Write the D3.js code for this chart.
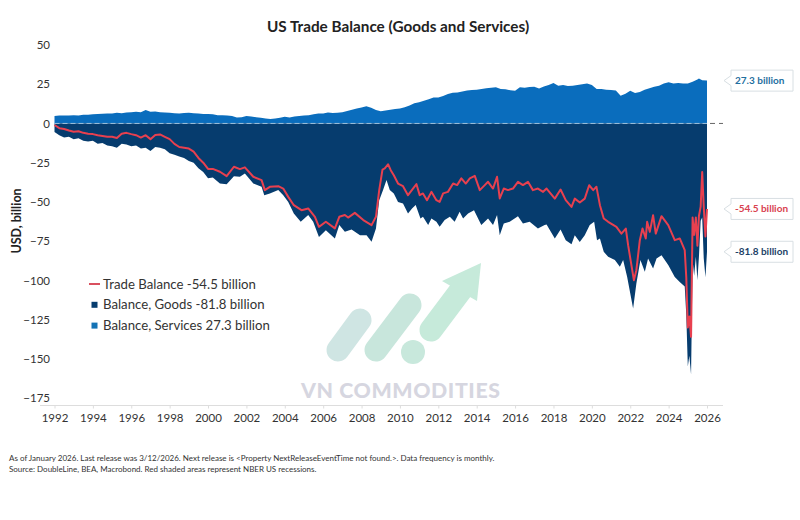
<!DOCTYPE html>
<html>
<head>
<meta charset="utf-8">
<script src="https://cdn.jsdelivr.net/npm/d3@7"></script>
<style>
  html, body { margin: 0; padding: 0; background: #fff; }
  text { font-family: Lato, "Open Sans", sans-serif; }
</style>
</head>
<body>
<div id="chart"></div>
<script>
const serviceDates = [
  1992,1992.25,1992.5,1992.75, 1993,1993.25,1993.5,1993.75, 1994,1994.25,1994.5,1994.75,
  1995,1995.25,1995.5,1995.75, 1996,1996.25,1996.5,1996.75, 1997,1997.25,1997.5,1997.75,
  1998,1998.25,1998.5,1998.75, 1999,1999.25,1999.5,1999.75, 2000,2000.25,2000.5,2000.75,
  2001,2001.25,2001.5,2001.75, 2002,2002.25,2002.5,2002.75, 2003,2003.25,2003.5,2003.75,
  2004,2004.25,2004.5,2004.75, 2005,2005.25,2005.5,2005.75, 2006,2006.25,2006.5,2006.75,
  2007,2007.25,2007.5,2007.75, 2008,2008.25,2008.5,2008.75, 2009,2009.25,2009.5,2009.75,
  2010,2010.25,2010.5,2010.75, 2011,2011.25,2011.5,2011.75, 2012,2012.25,2012.5,2012.75,
  2013,2013.25,2013.5,2013.75, 2014,2014.25,2014.5,2014.75, 2015,2015.25,2015.5,2015.75,
  2016,2016.25,2016.5,2016.75, 2017,2017.25,2017.5,2017.75, 2018,2018.25,2018.5,2018.75,
  2019,2019.25,2019.5,2019.75, 2020,2020.25,2020.5,2020.75, 2021,2021.25,2021.5,2021.75,
  2022,2022.25,2022.5,2022.75, 2023,2023.25,2023.5,2023.75, 2024,2024.25,2024.5,2024.75,
  2025,2025.25,2025.5,2025.58,2025.75,2026
];
const services = [
  4.7,5,5,5, 5.2,5,5.5,5.5, 5.8,6,6.2,6.4,
  6.3,6.8,6.5,7, 7.2,7.5,7.2,8.5, 7.5,7.6,7.2,7,
  6.8,6.5,6.4,6.6, 6.8,6.5,6.3,6, 6,5.8,5.3,5.2,
  5,4.8,3.8,3.9, 4.7,4.5,4,3.6, 3.2,2.8,3.2,3.6,
  4.3,3.8,4.5,4.8, 5,5.2,5.8,6.4, 6.4,7,6.6,6.8,
  7.2,8,8.8,9.5, 10.2,10.9,10,8.5, 7.7,8.2,8.8,9.2,
  9.5,10.3,11.5,12.8, 13.5,14.5,15.5,16.6, 16.5,17.5,18.7,19.5,
  19.8,20.4,21,21.3, 21.5,22,22.5,22.7, 23,22,21.8,21.2,
  20.9,23,22.8,23.2, 23.4,22.3,23.5,24.5, 25.7,24,24.5,23.8,
  24,24.5,25,25.5, 24.5,22,22,21.5, 21.3,21,17.7,19,
  20.9,19.4,20,21.5, 22.5,23.4,24,25.5, 26.2,25.5,25.8,25.5,
  25.5,26.5,28,28.7,27.5,27.3
];

const goodsDates = [
  1992,1992.25,1992.5,1992.75, 1993,1993.25,1993.5,1993.75, 1994,1994.25,1994.5,1994.75,
  1995,1995.25,1995.5,1995.75, 1996,1996.25,1996.5,1996.75, 1997,1997.25,1997.5,1997.75,
  1998,1998.25,1998.5,1998.75, 1999,1999.25,1999.5,1999.75, 2000,2000.25,
  2000.62,2000.97,2001.35,2001.66,2001.92,2002.36,2002.79,2002.93,2003.22,2003.66,2003.92,
  2004.18,2004.47,2004.83,2005.22,2005.48,2005.78,2006.14,2006.61,2006.84,2007.13,2007.48,
  2007.92,2008.26,2008.52,2008.75,2008.92,2009.12,2009.3,2009.47,2009.68,2009.9,
  2010.16,2010.42,2010.63,2010.82,2011.07,2011.2,2011.47,2011.64,2011.9,2012.07,2012.33,
  2012.6,2012.85,2013.11,2013.29,2013.55,2013.86,2014.24,2014.59,2014.85,2015.06,2015.2,
  2015.41,2015.72,2016.15,2016.41,2016.76,2017.19,2017.54,2017.64,2018.07,2018.37,2018.64,
  2018.94,2019.11,2019.37,2019.63,2019.89,2020.12,2020.27,2020.42,2020.62,2020.85,2021.2,
  2021.46,2021.63,2021.84,2022.15,2022.32,2022.53,2022.76,2022.93,2023.19,2023.37,2023.63,
  2023.98,2024.32,2024.58,2024.84,2024.92,
  2025,2025.08,2025.17,2025.25,2025.33,2025.42,2025.5,2025.58,2025.67,2025.75,2025.83,2025.92,2026
];
const goods = [
  -5.5,-7.5,-9,-8.5, -10,-9.5,-11,-11.5, -11,-13,-12.5,-14,
  -14.5,-15.5,-13,-13.5, -14.5,-14,-16,-15.5, -17.5,-15,-15.5,-16.5,
  -19,-20,-21,-22, -24,-25,-28.5,-31, -35,-34.5,
  -38.3,-38.7,-33.6,-34,-31.9,-38.3,-40.4,-45.7,-44.6,-42.5,-45.7,
  -50,-57.4,-62.7,-58.4,-62.7,-72.3,-68,-73.3,-64.8,-69,-67.6,
  -71.2,-71.2,-75.4,-67,-48.9,-42.5,-36.1,-42.5,-44.6,-50,
  -51,-57.4,-54.2,-52,-60.6,-59.5,-64.8,-60.6,-62.7,-65.9,-61.6,
  -59.5,-62.7,-56.3,-60.6,-57.4,-55.3,-64.8,-60.6,-64.8,-58.4,-71.2,
  -63.8,-62.7,-59.1,-63.8,-62.7,-67,-64.8,-64.4,-73.3,-67.6,-74.4,
  -77,-71.2,-75.5,-71.2,-64.8,-62.7,-74.4,-73.3,-81.8,-85,-87.1,
  -91.4,-87.1,-97.8,-118,-102,-87.1,-94.6,-86.1,-92.5,-86.1,-84,
  -90.3,-97.8,-101,-104,-122,
  -155,-148,-160,-87,-97,-85,-100,-85,-62,-60,-86,-98,-81.8
];

const tradeDates = [
  1992,1992.25,1992.5,1992.75, 1993,1993.25,1993.5,1993.75, 1994,1994.25,1994.5,1994.75,
  1995,1995.25,1995.5,1995.75, 1996,1996.25,1996.5,1996.75, 1997,1997.25,1997.5,1997.75,
  1998,1998.25,1998.5,1998.75, 1999,1999.25,1999.5,1999.75, 2000,2000.25,
  2000.62,2000.97,2001.35,2001.66,2001.92,2002.36,2002.79,2002.96,2003.22,2003.66,2003.92,
  2004.18,2004.47,2004.87,2005.22,2005.57,2005.78,2006.14,2006.61,2006.84,2007.13,2007.3,
  2007.65,2008.09,2008.52,2008.75,2008.92,2009.09,2009.21,2009.38,2009.52,2009.68,2009.9,
  2010.16,2010.42,2010.68,2010.86,2011.03,2011.2,2011.41,2011.64,2011.9,2012.07,2012.25,
  2012.5,2012.77,2012.98,2013.2,2013.43,2013.64,2013.9,2014.16,2014.42,2014.59,2014.85,
  2015.06,2015.2,2015.41,2015.63,2015.89,2016.15,2016.41,2016.67,2016.93,2017.19,2017.46,
  2017.64,2018.07,2018.37,2018.64,2018.94,2019.11,2019.37,2019.63,2019.86,2020.07,2020.24,
  2020.42,2020.62,2020.85,2021.28,2021.54,2021.77,2021.89,2022.19,2022.32,2022.5,2022.64,
  2022.81,2022.88,2023.02,2023.19,2023.33,2023.63,2023.98,2024.32,2024.58,2024.84,2024.92,
  2025,2025.08,2025.17,2025.25,2025.33,2025.42,2025.5,2025.58,2025.67,2025.75,2025.83,2025.92,2026
];
const trade = [
  -1,-3,-3.5,-4.5, -5.3,-5,-6,-6.5, -6.8,-7.5,-8,-8.5,
  -8.5,-9.3,-6.5,-6, -6.8,-7.5,-9,-7.5, -10,-7.3,-7,-8.5,
  -10,-13,-15,-15.5, -16,-18,-22,-25, -29,-29,
  -30.8,-33.6,-27.6,-29.1,-28,-34,-36.1,-42.5,-40.4,-40,-41.5,
  -46.8,-52.1,-55.3,-54.2,-59.5,-65.9,-62.7,-66.9,-59.5,-58.4,-60,
  -57,-61.6,-64.8,-59.5,-42.5,-29.4,-28.7,-26,-29.8,-33,-38.3,
  -40,-45.7,-41.5,-38.7,-45.7,-44.6,-48.9,-43.6,-48.9,-50,-44.6,
  -43.6,-38.3,-39.3,-35,-38.3,-35,-33.4,-42.5,-39.3,-37.2,-41.5,
  -34,-47.8,-41.5,-42.5,-41.5,-37.2,-39.3,-37.2,-42.5,-41.5,-43.6,
  -41.5,-47.9,-42.1,-48.9,-53.2,-47.9,-50.4,-47.9,-39.4,-42.5,-40.4,
  -52.1,-60.6,-62.7,-65.9,-70.2,-67,-77.6,-99.9,-93.5,-74.4,-67,
  -73.3,-62.7,-69.1,-58.5,-70.2,-59.1,-64.8,-74.4,-73.3,-80.8,-98,
  -130,-123,-136,-60,-71,-60,-78,-59,-53,-31,-53,-72,-54.5
];

const yTicks = [50, 25, 0, -25, -50, -75, -100, -125, -150, -175];
const xTicks = [1992,1994,1996,1998,2000,2002,2004,2006,2008,2010,2012,2014,2016,2018,2020,2022,2024,2026];
const legendItems = ['Trade Balance -54.5 billion', 'Balance, Goods -81.8 billion', 'Balance, Services 27.3 billion'];
const callouts = [
  {value: 27.3, label: '27.3 billion', color: '#1f6f9f'},
  {value: -54.5, label: '-54.5 billion', color: '#d9414f'},
  {value: -81.8, label: '-81.8 billion', color: '#1d3f66'}
];
const footnotes = [
  'As of January 2026. Last release was 3/12/2026. Next release is <Property NextReleaseEventTime not found.>. Data frequency is monthly.',
  'Source: DoubleLine, BEA, Macrobond. Red shaded areas represent NBER US recessions.'
];

const width = 800, height = 520;
const svg = d3.select('#chart').append('svg')
  .attr('width', width).attr('height', height)
  .style('display', 'block');

const x = d3.scaleLinear().domain([1992, 2026]).range([54.5, 707]);
const y = d3.scaleLinear().domain([50, -175]).range([45, 398]);
const axisY = 405.5;

svg.append('text').attr('x', 398).attr('y', 32)
  .attr('text-anchor', 'middle').attr('font-size', 15.3).attr('font-weight', 700)
  .attr('fill', '#222').text('US Trade Balance (Goods and Services)');

// watermark sits under everything else
const mark = svg.append('g');
mark.append('path').attr('d', 'M338 350L360 320').attr('stroke', '#cfe5e3').attr('stroke-width', 23).attr('stroke-linecap', 'round').attr('fill', 'none');
mark.append('path').attr('d', 'M376 350L410 305').attr('stroke', '#c8e6dc').attr('stroke-width', 23).attr('stroke-linecap', 'round').attr('fill', 'none');
mark.append('circle').attr('cx', 413).attr('cy', 352).attr('r', 12).attr('fill', '#c8e8dc');
mark.append('path').attr('d', 'M431 330L461 290').attr('stroke', '#c6eada').attr('stroke-width', 23).attr('stroke-linecap', 'round').attr('fill', 'none');
mark.append('path').attr('d', 'M481 263L442 281L477 301Z').attr('fill', '#c6eada');
mark.append('text').attr('x', 301).attr('y', 398)
  .attr('font-size', 21.3).attr('font-weight', 900).attr('letter-spacing', 0.6)
  .attr('fill', '#d6d6e0').text('VN COMMODITIES');

const toRows = (ds, vs) => ds.map((d, i) => ({date: d, value: vs[i]}));
const area = d3.area().x(d => x(d.date)).y0(y(0)).y1(d => y(d.value));

svg.append('path').datum(toRows(serviceDates, services)).attr('fill', '#0a6dbd').attr('d', area);
svg.append('path').datum(toRows(goodsDates, goods)).attr('fill', '#063c6e').attr('d', area);

// zero line, pale over the areas and grey past them
svg.append('line').attr('x1', x(1992)).attr('x2', x(2026)).attr('y1', y(0)).attr('y2', y(0))
  .attr('stroke', '#9dc0da').attr('stroke-width', 1).attr('stroke-dasharray', '5,3');
svg.append('line').attr('x1', x(2026) + 3).attr('x2', 723).attr('y1', y(0)).attr('y2', y(0))
  .attr('stroke', '#666').attr('stroke-width', 1).attr('stroke-dasharray', '5,4');

svg.append('path').datum(toRows(tradeDates, trade)).attr('fill', 'none')
  .attr('stroke', '#e8404f').attr('stroke-width', 2).attr('stroke-linejoin', 'round')
  .attr('d', d3.line().x(d => x(d.date)).y(d => y(d.value)));

const gx = svg.append('g').attr('transform', `translate(0,${axisY})`)
  .call(d3.axisBottom(x).tickValues(xTicks).tickFormat(d3.format('d')).tickSize(3).tickPadding(5));
gx.select('.domain').attr('stroke', '#ddd').attr('d', `M40,0H723`);
gx.selectAll('.tick line').attr('stroke', '#ddd');
gx.selectAll('text').attr('font-size', 11.5).attr('fill', '#333').style('font-family', 'Lato, sans-serif');

const gy = svg.append('g').attr('transform', 'translate(50,0)')
  .call(d3.axisLeft(y).tickValues(yTicks).tickFormat(d3.format('d')).tickSize(0).tickPadding(0));
gy.select('.domain').remove();
gy.selectAll('text').attr('font-size', 11.5).attr('fill', '#333').style('font-family', 'Lato, sans-serif');

svg.append('text').attr('transform', 'translate(21,221) rotate(-90)')
  .attr('text-anchor', 'middle').attr('font-size', 12.5).attr('font-weight', 700)
  .attr('fill', '#222').text('USD, billion');

// legend
const legend = svg.append('g').selectAll('g').data(legendItems).join('g')
  .attr('transform', (d, i) => `translate(0,${284 + i * 20.8})`);
legend.append('text').attr('x', 103).attr('y', 4.5).attr('font-size', 13.2).attr('fill', '#333').text(d => d);
legend.each(function(d, i) {
  const g = d3.select(this);
  if (i === 0) {
    g.append('line').attr('x1', 89).attr('x2', 100).attr('stroke', '#d9505f').attr('stroke-width', 2);
  } else {
    g.append('rect').attr('x', 91.5).attr('y', -3).attr('width', 6).attr('height', 6)
      .attr('fill', i === 1 ? '#063c6e' : '#1473b5');
  }
});

// value callouts on the right
const boxes = svg.append('g').selectAll('g').data(callouts).join('g')
  .attr('transform', d => `translate(0,${y(d.value)})`);
boxes.append('path')
  .attr('d', 'M724,0L731,-5V-10.5H793V10.5H731V5Z')
  .attr('fill', '#fff').attr('stroke', '#d8dfe3').attr('stroke-width', 1);
boxes.append('text').attr('x', 735).attr('y', 3.5)
  .attr('font-size', 10).attr('font-weight', 700)
  .attr('fill', d => d.color).text(d => d.label);

svg.append('g').selectAll('text').data(footnotes).join('text')
  .attr('x', 9).attr('y', (d, i) => 461 + i * 11)
  .attr('font-size', 8).attr('fill', '#333').text(d => d);
</script>
</body>
</html>
